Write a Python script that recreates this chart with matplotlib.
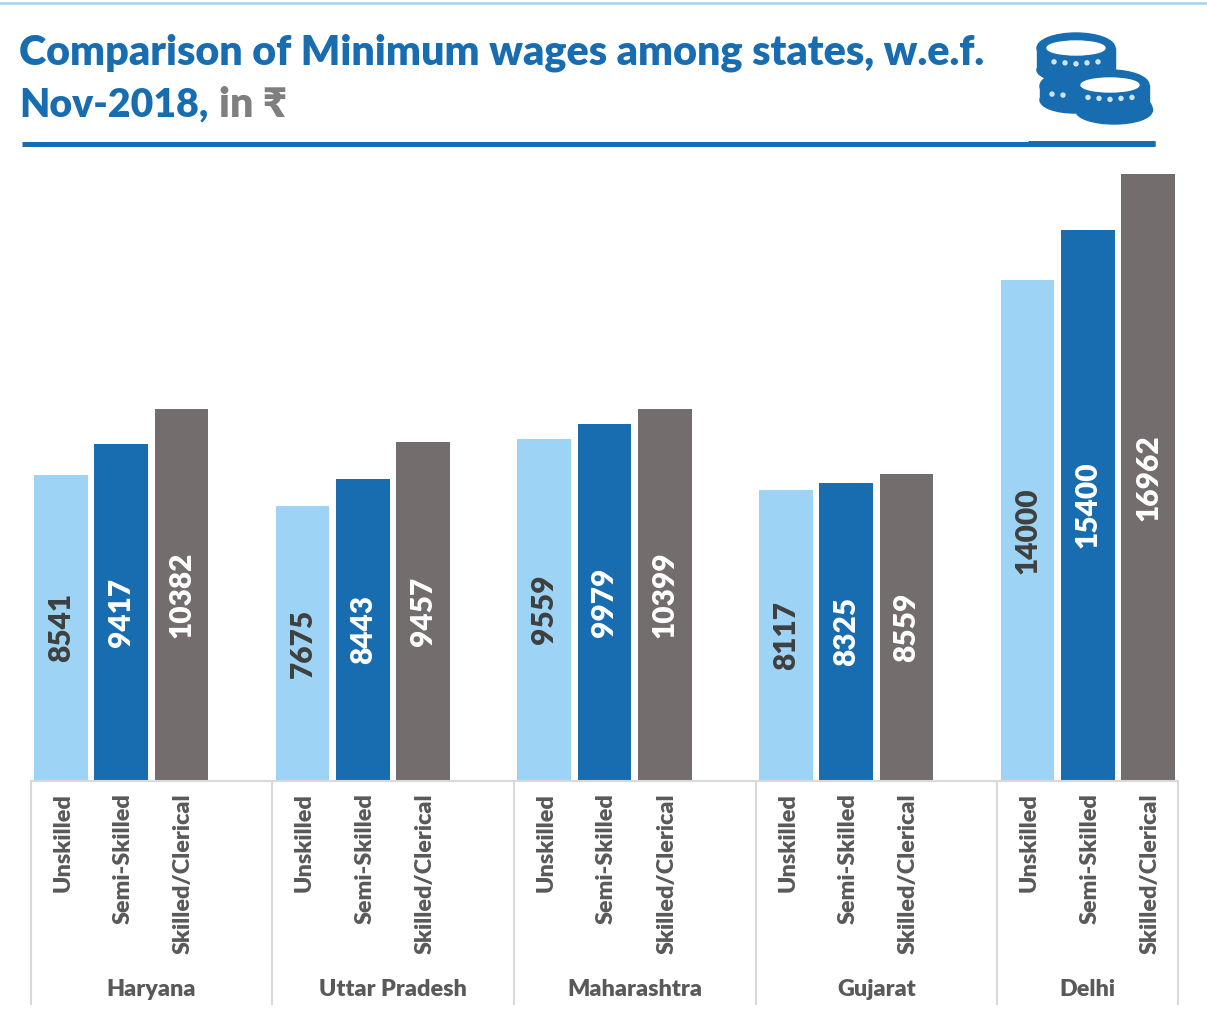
import matplotlib.pyplot as plt
from matplotlib.patches import Ellipse, Rectangle
from matplotlib.transforms import ScaledTranslation

plt.rcParams['font.family'] = ['Lato', 'Noto Sans', 'DejaVu Sans']

states = ["Haryana", "Uttar Pradesh", "Maharashtra", "Gujarat", "Delhi"]
skills = ["Unskilled", "Semi-Skilled", "Skilled/Clerical"]
unskilled = [8541, 7675, 9559, 8117, 14000]
semi_skilled = [9417, 8443, 9979, 8325, 15400]
skilled = [10382, 9457, 10399, 8559, 16962]

colors = ["#9DD4F5", "#186DB1", "#736E6D"]
label_colors = ["#3F3F3F", "white", "white"]
blue = "#186DB1"
grey = "#7F7F7F"
axis_grey = "#D9D9D9"
text_grey = "#595959"

W, H = 1207, 1017
fig = plt.figure(figsize=(W / 100, H / 100), dpi=100)

# pixel overlay for the header
bg = fig.add_axes([0, 0, 1, 1])
bg.set_xlim(0, W)
bg.set_ylim(H, 0)
bg.axis("off")
bg.plot([0, W], [2.5, 2.5], color="#9DD4F5", lw=1.8)
bg.plot([22, 1155], [143.5, 143.5], color=blue, lw=3.6, solid_capstyle="butt")
bg.plot([1028, 1155], [142.5, 142.5], color=blue, lw=3.6, solid_capstyle="butt")
bg.text(19, 53, "Comparison of Minimum wages among states, w.e.f.", color=blue,
        fontsize=29.8, fontweight="heavy", va="center", ha="left")
bg.text(19, 105, "Nov-2018,", color=blue, fontsize=28.3, fontweight="heavy", va="center", ha="left")
bg.text(219, 105, "in ₹", color=grey, fontsize=29.8, fontweight="heavy", va="center", ha="left")

# coin icon
def coin(cx, cy, w, hgt, hole=True, dots=5, z=3):
    bg.add_patch(Rectangle((cx - w / 2, cy), w, hgt, color=blue, zorder=z))
    bg.add_patch(Ellipse((cx, cy + hgt), w, 26, color=blue, zorder=z))
    bg.add_patch(Ellipse((cx, cy), w, 30, color=blue, zorder=z))
    if hole:
        bg.add_patch(Ellipse((cx, cy), w - 20, 14, color="white", zorder=z + 0.5))
    for k in range(-dots // 2 + 1, dots // 2 + 1):
        bg.add_patch(Ellipse((cx + k * 11, cy + hgt * 0.72 - abs(k)), 4, 4, color="#CFE3F3", zorder=z + 0.5))

coin(1074, 86, 68, 14, hole=False, z=2)
coin(1076, 48, 78, 22, z=3)
coin(1114, 108, 76, 3, hole=False, z=4)
coin(1110, 85, 78, 20, z=5)

# bars
ax = fig.add_axes([30.5 / W, 1 - 780.5 / H, 1148 / W, 606.5 / H])
series = [unskilled, semi_skilled, skilled]
ticks = []
tick_labels = []
for g in range(len(states)):
    for s in range(len(skills)):
        x = g * 4 + s
        val = series[s][g]
        ax.bar(x, val, width=0.89, color=colors[s])
        ax.text(x, val / 2, str(val), rotation=90, ha="center", va="center",
                color=label_colors[s], fontsize=21.5, fontweight="heavy")
        ticks.append(x)
        tick_labels.append(skills[s])

ax.set_xlim(-0.5, 18.5)
ax.set_ylim(0, 16962)
ax.set_yticks([])
for side in ["top", "left", "right"]:
    ax.spines[side].set_visible(False)
ax.spines["bottom"].set_color(axis_grey)
ax.spines["bottom"].set_linewidth(1.5)
ax.set_xticks(ticks)
ax.set_xticklabels(tick_labels, rotation=90, fontsize=16.8, fontweight="heavy", color=text_grey, va="top", ha="center")
ax.tick_params(axis="x", length=0, pad=9)
# tick labels sit about 2px right of the bar centres in the original
nudge = ScaledTranslation(2 / 100, 0, fig.dpi_scale_trans)
for lab in ax.get_xticklabels():
    lab.set_transform(lab.get_transform() + nudge)

# group separators and state names under the axis
seps = [-0.5, 3.5, 7.5, 11.5, 15.5, 18.5]
trans = ax.get_xaxis_transform()
for g, state in enumerate(states):
    ax.text((seps[g] + seps[g + 1]) / 2, -209 / 606, state, transform=trans, ha="center", va="center",
            fontsize=16.8, fontweight="heavy", color=text_grey)
for sep in seps:
    ax.plot([sep, sep], [0, -223 / 606], transform=trans, color=axis_grey, lw=1.5, clip_on=False)

fig.savefig("out.png", dpi=100)
